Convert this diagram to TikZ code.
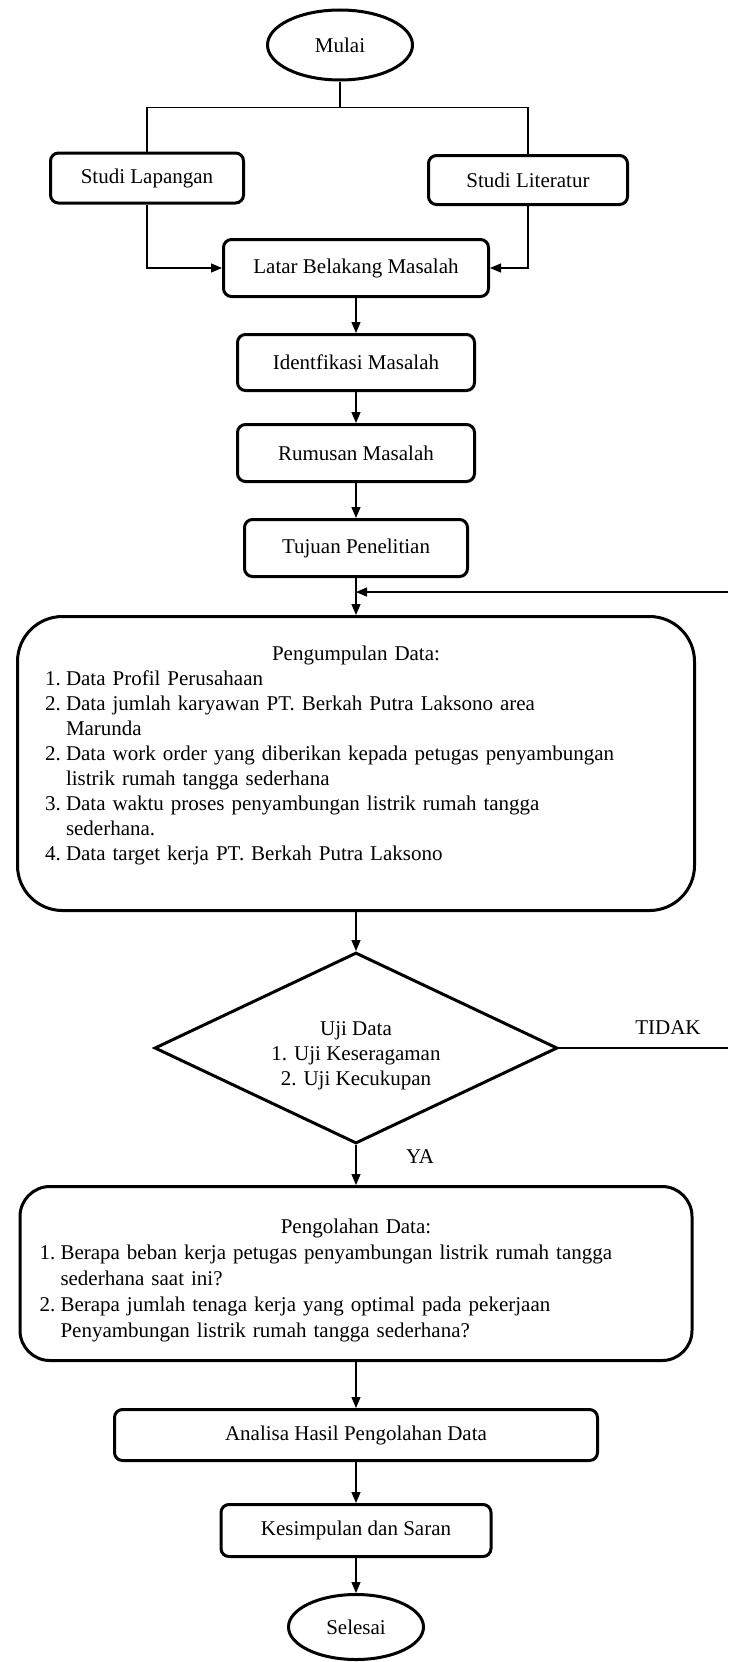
\documentclass[tikz,border=0pt]{standalone}
\usepackage{fontspec}
\setmainfont{Liberation Serif}
\usetikzlibrary{arrows.meta, positioning, calc, shapes.geometric}

% numbered line with hanging indent
\newcommand{\numline}[2]{\par\noindent\hangindent=21pt\hangafter=1\makebox[21pt][l]{#1}#2}

\begin{document}
\begin{tikzpicture}[
  x=1pt, y=-1pt,
  every node/.style = {font=\fontsize{21}{25}\selectfont},
  terminal/.style = {ellipse, draw, line width=3pt, inner sep=0pt},
  process/.style  = {rectangle, draw, line width=3pt, rounded corners=8pt,
                     align=center, inner sep=0pt},
  bigbox/.style   = {rectangle, draw, line width=3pt, align=left, inner sep=0pt},
  decision/.style = {diamond, draw, line width=3pt, align=center, inner sep=0pt,
                     aspect=2.1},
  link/.style     = {line width=1.3pt},
  arrow/.style    = {line width=1.3pt, -{Triangle[length=11pt, width=9pt]}}
]
\useasboundingbox (0,0) rectangle (728,1662);

%--------------------------------------------------
% Start and studies
%--------------------------------------------------
\node[terminal, minimum width=145pt, minimum height=70pt] (mulai) at (340,45) {Mulai};
\node[process, minimum width=193pt, minimum height=50pt] (lapangan) at (147,178) {Studi Lapangan};
\node[process, minimum width=199pt, minimum height=49pt] (literatur) at (528,180) {Studi Literatur};

%--------------------------------------------------
% Main column
%--------------------------------------------------
\node[process, minimum width=265pt, minimum height=57pt] (latar) at (356,268) {Latar Belakang Masalah};
\node[process, minimum width=237pt, minimum height=56pt, below=35pt of latar] (identifikasi) {Identfikasi Masalah};
\node[process, minimum width=237pt, minimum height=57pt, below=31pt of identifikasi] (rumusan) {Rumusan Masalah};
\node[process, minimum width=223pt, minimum height=57pt, below=35pt of rumusan] (tujuan) {Tujuan Penelitian};

\node[bigbox, rounded corners=45pt, minimum width=677pt, minimum height=294pt,
      text width=622pt, below=37pt of tujuan] (kumpul)
  {{\centering Pengumpulan Data:\par}
   \numline{1.}{Data Profil Perusahaan}
   \numline{2.}{Data jumlah karyawan PT. Berkah Putra Laksono area\newline Marunda}
   \numline{2.}{Data work order yang diberikan kepada petugas penyambungan\newline listrik rumah tangga sederhana}
   \numline{3.}{Data waktu proses penyambungan listrik rumah tangga\newline sederhana.}
   \numline{4.}{Data target kerja PT. Berkah Putra Laksono\rule[-21pt]{0pt}{21pt}}
   \par};

\node[decision, minimum width=403pt, minimum height=191pt, below=39pt of kumpul] (uji)
  {\rule{0pt}{29pt}Uji Data\\1. Uji Keseragaman\\2. Uji Kecukupan};

\node[bigbox, rounded corners=30pt, minimum width=672pt, minimum height=174pt,
      text width=633pt, below=40pt of uji,
      font=\fontsize{21}{26}\selectfont] (olah)
  {{\centering\rule{0pt}{28pt}Pengolahan Data:\par}
   \numline{1.}{Berapa beban kerja petugas penyambungan listrik rumah tangga\newline sederhana saat ini?}
   \numline{2.}{Berapa jumlah tenaga kerja yang optimal pada pekerjaan\newline Penyambungan listrik rumah tangga sederhana?}
   \par};

\node[process, minimum width=483pt, minimum height=51pt, below=46pt of olah] (analisa) {Analisa Hasil Pengolahan Data};
\node[process, minimum width=270pt, minimum height=52pt, below=41pt of analisa] (simpulan) {Kesimpulan dan Saran};
\node[terminal, minimum width=135pt, minimum height=65pt, below=35pt of simpulan] (selesai) {Selesai};

% branch labels
\node (tidak) at (668,1028) {TIDAK};
\node (ya) at (420,1157) {YA};

%--------------------------------------------------
% Connections
%--------------------------------------------------
\coordinate (split) at ($(mulai.south)+(0,26)$);
\coordinate (edge) at (728,0);
\coordinate (merge) at ($(tujuan.south)!0.38!(kumpul.north)$);

% start splits to both studies
\draw[link] (mulai.south) -- (split);
\draw[link] (lapangan.north) |- (split) -| (literatur.north);

% studies into background
\draw[arrow] (lapangan.south) |- (latar.west);
\draw[arrow] (literatur.south) |- (latar.east);

% main flow
\draw[arrow] (latar.south) -- (identifikasi.north);
\draw[arrow] (identifikasi.south) -- (rumusan.north);
\draw[arrow] (rumusan.south) -- (tujuan.north);
\draw[arrow] (tujuan.south) -- (kumpul.north);
\draw[arrow] (kumpul.south) -- (uji.north);
\draw[arrow] (uji.south) -- (olah.north);
\draw[arrow] (olah.south) -- (analisa.north);
\draw[arrow] (analisa.south) -- (simpulan.north);
\draw[arrow] (simpulan.south) -- (selesai.north);

% TIDAK loop back to data collection
\draw[link] (uji.east) -- (uji.east -| edge);
\draw[arrow] (merge -| edge) -- (merge);

\end{tikzpicture}
\end{document}
